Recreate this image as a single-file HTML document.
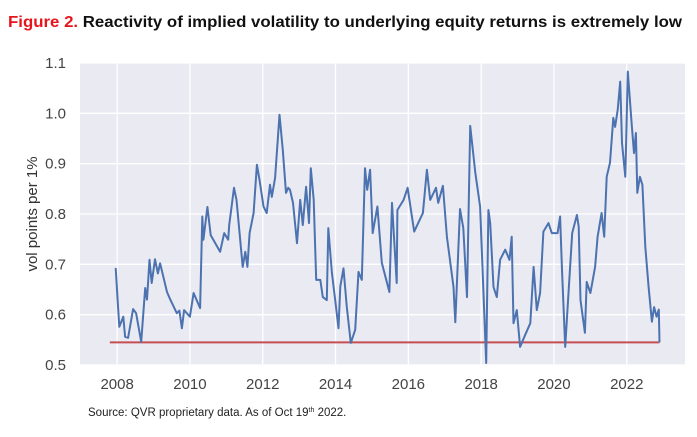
<!DOCTYPE html>
<html><head><meta charset="utf-8"><style>
body{margin:0;background:#fff;width:697px;height:432px;overflow:hidden;font-family:"Liberation Sans",sans-serif}
</style></head><body>
<svg id="chart" width="697" height="432" xmlns="http://www.w3.org/2000/svg">
<text x="8" y="27" font-family="Liberation Sans, sans-serif" font-weight="bold" font-size="16" textLength="674" lengthAdjust="spacingAndGlyphs"><tspan fill="#e8141b">Figure 2.</tspan><tspan fill="#111"> Reactivity of implied volatility to underlying equity returns is extremely low</tspan></text>
<rect x="80" y="63" width="605" height="302" fill="#eaeaf2"/>
<g id="grid"></g>
<g id="ylabels" font-size="15" fill="#444" text-anchor="end"></g>
<g id="xlabels" font-size="15" fill="#444" text-anchor="middle"></g>
<text transform="translate(37,214) rotate(-90)" text-anchor="middle" font-size="15" fill="#333">vol points per 1%</text>
<g id="series"></g>
<text x="88" y="416" font-size="11.5" fill="#222">Source: QVR proprietary data. As of Oct 19<tspan font-size="7" dy="-4">th</tspan><tspan dy="4"> 2022.</tspan></text>
</svg>
<script>
const yTicks=[0.5,0.6,0.7,0.8,0.9,1.0,1.1];
const yTickLabels=["0.5","0.6","0.7","0.8","0.9","1.0","1.1"];
const xTicks=[2008,2010,2012,2014,2016,2018,2020,2022];
const xTickLabels=["2008","2010","2012","2014","2016","2018","2020","2022"];
const years=[2007.96,2008.01,2008.06,2008.17,2008.22,2008.30,2008.44,2008.52,2008.66,2008.77,2008.82,2008.89,2008.95,2009.04,2009.12,2009.18,2009.37,2009.46,2009.64,2009.71,2009.78,2009.84,2010.0,2010.1,2010.28,2010.34,2010.37,2010.48,2010.57,2010.83,2010.94,2011.05,2011.08,2011.21,2011.28,2011.45,2011.52,2011.58,2011.64,2011.75,2011.84,2011.91,2012.02,2012.11,2012.2,2012.25,2012.34,2012.46,2012.55,2012.64,2012.70,2012.75,2012.83,2012.94,2013.03,2013.10,2013.19,2013.27,2013.32,2013.40,2013.47,2013.58,2013.65,2013.76,2013.80,2013.9,2013.99,2014.08,2014.13,2014.22,2014.31,2014.42,2014.54,2014.63,2014.72,2014.81,2014.87,2014.95,2015.02,2015.15,2015.27,2015.48,2015.55,2015.68,2015.70,2015.87,2015.98,2016.16,2016.4,2016.51,2016.60,2016.76,2016.82,2016.95,2017.06,2017.24,2017.29,2017.42,2017.51,2017.61,2017.70,2017.84,2017.97,2018.14,2018.20,2018.25,2018.34,2018.43,2018.52,2018.66,2018.78,2018.84,2018.89,2018.98,2019.07,2019.21,2019.35,2019.44,2019.53,2019.62,2019.71,2019.85,2019.94,2020.1,2020.17,2020.22,2020.31,2020.40,2020.5,2020.63,2020.68,2020.73,2020.85,2020.9,2021.0,2021.13,2021.2,2021.31,2021.38,2021.45,2021.54,2021.63,2021.68,2021.75,2021.82,2021.87,2021.96,2022.03,2022.14,2022.20,2022.25,2022.29,2022.36,2022.43,2022.51,2022.6,2022.69,2022.75,2022.82,2022.88,2022.9];
const vals=[0.693,0.633,0.576,0.596,0.556,0.554,0.611,0.603,0.546,0.653,0.63,0.709,0.663,0.71,0.682,0.702,0.645,0.63,0.603,0.608,0.573,0.609,0.596,0.643,0.613,0.795,0.749,0.814,0.758,0.725,0.762,0.749,0.778,0.852,0.828,0.695,0.725,0.695,0.762,0.802,0.898,0.868,0.815,0.802,0.858,0.834,0.872,0.997,0.927,0.842,0.852,0.848,0.822,0.742,0.828,0.778,0.854,0.782,0.891,0.828,0.669,0.669,0.635,0.629,0.772,0.683,0.629,0.573,0.656,0.692,0.615,0.544,0.57,0.685,0.669,0.891,0.848,0.888,0.762,0.815,0.703,0.645,0.822,0.663,0.808,0.828,0.852,0.765,0.802,0.888,0.828,0.852,0.822,0.856,0.755,0.655,0.585,0.81,0.772,0.635,0.975,0.882,0.815,0.504,0.808,0.782,0.655,0.635,0.709,0.729,0.709,0.755,0.583,0.609,0.536,0.56,0.583,0.695,0.609,0.643,0.765,0.782,0.762,0.762,0.795,0.689,0.536,0.643,0.762,0.798,0.775,0.629,0.564,0.665,0.643,0.695,0.755,0.802,0.755,0.874,0.902,0.991,0.973,1.007,1.063,0.941,0.874,1.083,0.973,0.921,0.961,0.842,0.874,0.858,0.735,0.655,0.586,0.615,0.596,0.61,0.545];
const refLevel=0.545, refStart=2007.8, refEnd=2022.9;

const X0=80,X1=685,Y0=365,Y1=63,D0=2006.98,D1=2023.6,V0=0.5,V1=1.1;
const xs=d=>X0+(d-D0)/(D1-D0)*(X1-X0);
const ys=v=>Y0-(v-V0)/(V1-V0)*(Y0-Y1);
const NS="http://www.w3.org/2000/svg";
function mk(tag,attrs,parent){const e=document.createElementNS(NS,tag);for(const k in attrs)e.setAttribute(k,attrs[k]);parent.appendChild(e);return e;}
const grid=document.getElementById('grid');
const yl=document.getElementById('ylabels');
const xl=document.getElementById('xlabels');
yTicks.forEach((t,i)=>{
  const l=mk('line',{x1:X0,x2:X1,y1:ys(t),y2:ys(t),stroke:'#fff','stroke-width':1.3},grid);
  
  
  const tx=mk('text',{x:66,y:ys(t)+5},yl);tx.textContent=yTickLabels[i];
  
  
});
xTicks.forEach((t,i)=>{
  const l=mk('line',{x1:xs(t),x2:xs(t),y1:Y0,y2:Y1,stroke:'#fff','stroke-width':1.3},grid);
  
  
  const tx=mk('text',{x:xs(t),y:389},xl);tx.textContent=xTickLabels[i];
  
  
});
const s=document.getElementById('series');
const ref=mk('line',{x1:xs(refStart),x2:xs(refEnd),y1:ys(refLevel),y2:ys(refLevel),stroke:'#c44e52','stroke-width':2},s);


const pts=years.map((d,i)=>xs(d).toFixed(1)+','+ys(vals[i]).toFixed(1)).join(' ');
const pl=mk('polyline',{points:pts,fill:'none',stroke:'#4c72b0','stroke-width':2,'stroke-linejoin':'round'},s);


</script>
</body></html>
